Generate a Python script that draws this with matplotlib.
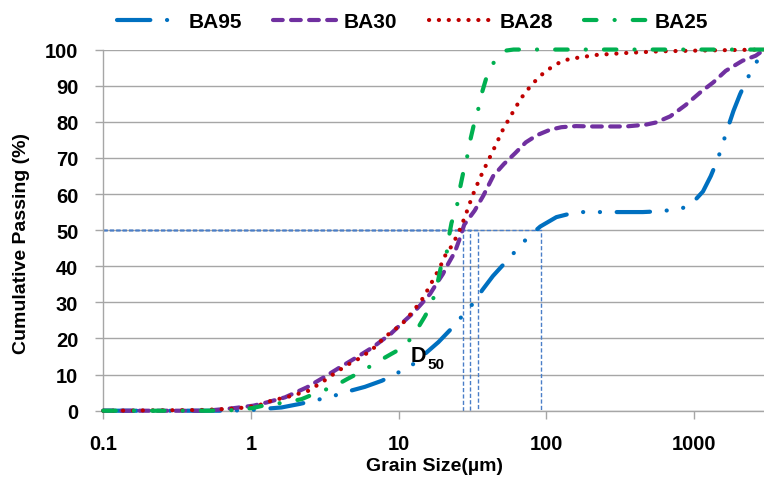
import matplotlib
matplotlib.use("Agg")
import matplotlib.pyplot as plt
from matplotlib.ticker import NullLocator

plt.rcParams["font.family"] = ["Liberation Sans", "DejaVu Sans"]
plt.rcParams["font.weight"] = "bold"
plt.rcParams["lines.scale_dashes"] = False

# ---------------------------------------------------------
# data (grain size in um, passing in %)
# ---------------------------------------------------------
ba95_x = [0.1, 0.7, 1.0, 1.21, 1.61, 2.15, 3.5, 4.5, 5.9, 7.7, 10.2, 12.3, 18.6,
          22.6, 31.6, 37, 43.5, 52.6, 75, 91, 117, 160, 258, 330, 450, 575, 800,
          950, 1150, 1300, 1450, 1700, 1850, 2050, 2300, 2600, 3000]
ba95_y = [0, 0, 0.2, 0.5, 0.9, 1.9, 3.9, 5.3, 6.6, 8.3, 10.8, 12.6, 19,
          22.6, 29.5, 33.5, 37.3, 41, 48, 51, 53.6, 55, 55, 55, 55, 55.2, 55.8,
          57, 60.7, 65, 69.7, 78.5, 83, 87.6, 92, 96, 100]

ba30_x = [0.1, 0.5, 0.76, 1.04, 1.28, 1.7, 2.4, 3.1, 4.0, 5.2, 6.7, 8.9, 10.7,
          12.5, 14.2, 16.3, 18.0, 19.9, 21.6, 24.0, 25.9, 27.8, 32.7, 37.4,
          43.7, 51.6, 61.5, 72.6, 86.6, 106, 126.5, 159, 206, 346, 472, 552,
          690, 875, 1100, 1350, 1640, 2130, 2620, 3000]
ba30_y = [0, 0, 0.7, 1.4, 2.3, 3.7, 6.5, 9.2, 12, 14.8, 17.6, 21.4, 24.5,
          27, 29.5, 32.3, 35.1, 37.8, 40.6, 43.9, 47.6, 51.5, 55.4, 59.5,
          65, 68.3, 71.3, 74.3, 76.3, 77.8, 78.5, 78.8, 78.7, 78.7, 79.2, 79.8,
          81.5, 84.6, 88.1, 90.9, 94.1, 96.9, 98.3, 100]

ba28_x = [0.1, 0.46, 0.7, 0.93, 1.15, 1.38, 1.8, 2.44, 3.06, 3.7, 4.5, 5.6,
          6.9, 8.0, 9.7, 10.7, 11.8, 12.9, 13.9, 15.0, 16.2, 17.3, 18.5, 19.7,
          21.0, 22.9, 24.3, 26.4, 28.7, 31.6, 35.5, 39.7, 45, 50.8, 58.3, 67.4,
          80, 98.5, 125, 144, 218, 330, 580, 1030, 3000]
ba28_y = [0, 0.2, 0.5, 0.9, 1.6, 2.8, 3.9, 5.5, 8.0, 10.4, 12.7, 14.8,
          17.6, 20.3, 22.9, 24.3, 26.3, 28.2, 30, 31.8, 34.6, 36.5, 38.8, 41,
          43.6, 45.6, 47.7, 50.8, 54.7, 59.5, 64.4, 68.6, 73.2, 77.8, 82.1, 86.5,
          90.4, 94, 96.6, 97.4, 98.5, 99, 99.5, 99.7, 100]

ba25_x = [0.1, 0.5, 0.8, 1.03, 1.27, 1.72, 2.2, 2.85, 3.6, 4.5, 5.7, 7.1, 8.9,
          11, 13, 15, 16.7, 18.1, 19.5, 21.1, 21.8, 22.8, 24.8, 25.9, 27.4,
          29, 30.5, 32.4, 34.6, 36.8, 39.6, 44.3, 53, 60, 3000]
ba25_y = [0, 0, 0.2, 0.75, 1.6, 2.3, 3.2, 5.1, 6.6, 8.8, 11, 13.4, 15.7,
          17.8, 21.8, 26, 29.5, 34.2, 40.6, 43.4, 47.8, 52, 56.6, 61.2, 66,
          70, 74.8, 79.4, 83.5, 88.3, 92.7, 96.6, 99.7, 100, 100]

d50_values = [27.1, 30.6, 34.5, 91.6]
d50_level = 50

labels = ["BA95", "BA30", "BA28", "BA25"]
colors = ["#0070C0", "#7030A0", "#C00000", "#00B050"]
dash_styles = [(0, (24, 12, 0.1, 12, 0.1, 12)),
               (0, (7, 6)),
               (0, (0.1, 7)),
               (0, (9, 13, 0.1, 13))]
widths = [3.0, 3.0, 3.0, 3.0]

xticks = [0.1, 1, 10, 100, 1000]
xtick_labels = ["0.1", "1", "10", "100", "1000"]
yticks = list(range(0, 101, 10))

# ---------------------------------------------------------
fig = plt.figure(figsize=(7.64, 4.85), dpi=100)
ax = fig.add_axes([0.1352, 0.1511, 0.8654, 0.7447])
ax.set_xscale("log")
ax.set_xlim(0.1, 3000)
ax.set_ylim(0, 100)

# D50 guide lines
for d in d50_values:
    ax.plot([0.1, d, d], [d50_level, d50_level, 0], color="#4A7EC8",
            lw=1.0, linestyle=(0, (3, 1.6)), zorder=2, clip_on=False)

series = [(ba95_x, ba95_y), (ba30_x, ba30_y), (ba28_x, ba28_y), (ba25_x, ba25_y)]
for (xs, ys), lab, c, ls, w in zip(series, labels, colors, dash_styles, widths):
    ax.plot(xs, ys, color=c, lw=w, linestyle=ls, dash_capstyle="round",
            solid_capstyle="round", label=lab, zorder=3, clip_on=False)

ax.text(12.0, 13.8, "D", fontsize=15.5, ha="left", va="baseline")
ax.text(15.8, 11.8, "50", fontsize=11, ha="left", va="baseline")

ax.set_xticks(xticks)
ax.set_xticklabels(xtick_labels)
ax.xaxis.set_minor_locator(NullLocator())
ax.set_yticks(yticks)
ax.tick_params(axis="both", labelsize=14.5, color="#A6A6A6", length=6, width=1)
ax.tick_params(axis="y", pad=12)
ax.tick_params(axis="x", pad=11)

ax.yaxis.grid(True, color="#A6A6A6", lw=1.0)
ax.set_axisbelow(True)
for side in ["top", "right"]:
    ax.spines[side].set_visible(False)
for side in ["left", "bottom"]:
    ax.spines[side].set_color("#A6A6A6")
    ax.spines[side].set_linewidth(1.0)

fig.text(22 / 764, 1 - 244 / 485, "Cumulative Passing (%)", rotation=90,
         ha="center", va="center", fontsize=14)
fig.text(435 / 764, 1 - 467 / 485, "Grain Size(\u00b5m)", ha="center",
         va="center", fontsize=14)

fig.legend(loc="center", bbox_to_anchor=(413 / 764, 1 - 23 / 485), ncol=4,
           frameon=False, fontsize=15, handlelength=3.0, handletextpad=0.4,
           columnspacing=1.5)

fig.savefig("out.png", dpi=100)
